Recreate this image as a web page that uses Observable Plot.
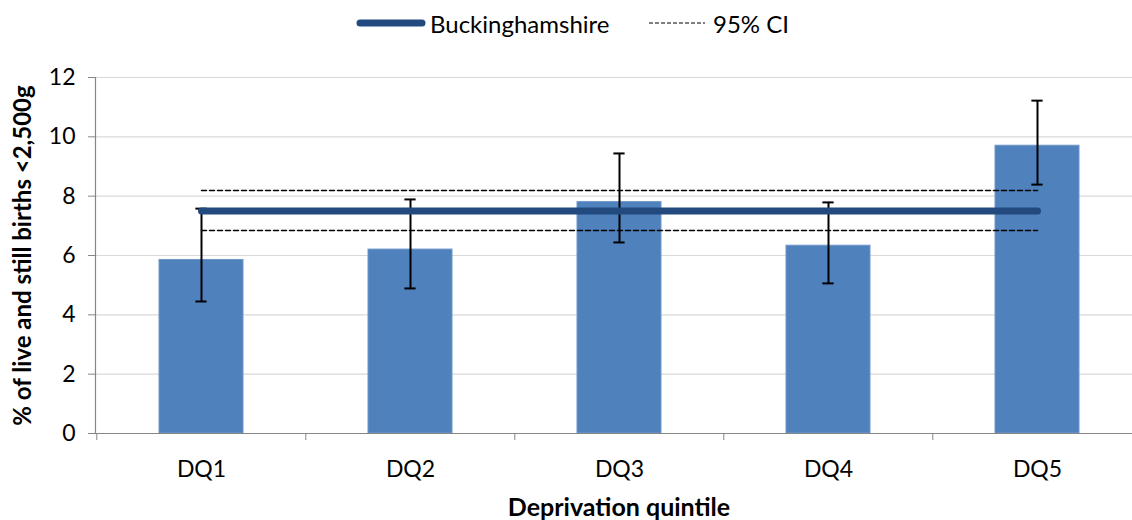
<!DOCTYPE html>
<html>
<head>
<meta charset="utf-8">
<script src="https://cdn.jsdelivr.net/npm/d3@7"></script>
<script src="https://cdn.jsdelivr.net/npm/@observablehq/plot@0.6"></script>
<style>
  html, body { margin: 0; padding: 0; background: #fff; overflow: hidden; }
  body { width: 1132px; height: 520px; font-family: Lato, "Open Sans", sans-serif; }
  #legend { height: 50px; position: relative; font-size: 24px; color: #000; }
  .item { position: absolute; top: 9px; display: flex; align-items: center; height: 28px; }
  .item svg { margin-right: 4px; }
  svg.chart g[aria-label="y-axis tick label"] { font-size: 23px; }
  svg.chart g[aria-label="x-axis tick label"] { font-size: 23px; }
</style>
</head>
<body>
<div id="legend">
  <div class="item" style="left:356px">
    <svg width="70" height="12"><line x1="4" x2="66" y1="6" y2="6" stroke="#224a7e" stroke-width="7" stroke-linecap="round"/></svg>
    <span>Buckinghamshire</span>
  </div>
  <div class="item" style="left:649px">
    <svg width="60" height="12"><line x1="0" x2="56" y1="6" y2="6" stroke="#000" stroke-width="1.2" stroke-dasharray="4,2"/></svg>
    <span>95% CI</span>
  </div>
</div>
<div id="chart"></div>
<script>
const categories = ["DQ1", "DQ2", "DQ3", "DQ4", "DQ5"];
const values = [5.85, 6.2, 7.8, 6.33, 9.7];
const lowerCI = [4.45, 4.89, 6.44, 5.06, 8.39];
const upperCI = [7.58, 7.89, 9.44, 7.79, 11.22];
const areaValue = 7.5;
const areaLower = 6.84;
const areaUpper = 8.19;
const yTicks = [0, 2, 4, 6, 8, 10, 12];

const rows = categories.map((c, i) => ({q: c, v: values[i], lo: lowerCI[i], hi: upperCI[i]}));
const areaRows = categories.map(c => ({q: c, v: areaValue, lo: areaLower, hi: areaUpper}));

const W = 1132, H = 470, mL = 95, mR = -10;
const step = (W - mL - mR) / categories.length;
const bw = step * 0.4;
const capW = 11;

const chart = Plot.plot({
  width: W,
  height: H,
  marginLeft: mL,
  marginRight: mR,
  marginTop: 27,
  marginBottom: 87,
  className: "chart",
  style: {fontFamily: "Lato, 'Open Sans', sans-serif", background: "#fff", overflow: "visible"},
  x: {domain: categories, paddingInner: 0.6, paddingOuter: 0.3, label: null},
  y: {domain: [0, 12], label: null},
  marks: [
    Plot.gridY(yTicks, {stroke: "#d9d9d9", strokeOpacity: 1, strokeWidth: 1.2}),
    Plot.barY(rows, {x: "q", y: "v", fill: "#4f81bd", stroke: "#6f97c8", strokeWidth: 1}),
    Plot.ruleX(rows, {x: "q", y1: "lo", y2: "hi", stroke: "#000", strokeWidth: 2}),
    Plot.tickY(rows, {x: "q", y: "lo", stroke: "#000", strokeWidth: 2, insetLeft: (bw - capW) / 2, insetRight: (bw - capW) / 2}),
    Plot.tickY(rows, {x: "q", y: "hi", stroke: "#000", strokeWidth: 2, insetLeft: (bw - capW) / 2, insetRight: (bw - capW) / 2}),
    Plot.line(areaRows, {x: "q", y: "hi", stroke: "#000", strokeWidth: 1.5, strokeDasharray: "5,3"}),
    Plot.line(areaRows, {x: "q", y: "lo", stroke: "#000", strokeWidth: 1.5, strokeDasharray: "5,3"}),
    Plot.line(areaRows, {x: "q", y: "v", stroke: "#224a7e", strokeWidth: 7, strokeLinecap: "round"}),
    Plot.ruleY([0], {stroke: "#868686", strokeWidth: 1.2}),
    Plot.frame({anchor: "left", stroke: "#868686", strokeWidth: 1.2}),
    Plot.axisY(yTicks, {tickSize: 7, tickPadding: 13, stroke: "#868686", fontSize: 23, fill: "#000", label: null}),
    Plot.axisX({tickSize: 7, dx: -step / 2, tickFormat: () => "", stroke: "#868686", label: null}),
    Plot.axisX({tickSize: 0, tickPadding: 27, fontSize: 23, fill: "#000", label: null}),
    Plot.text(["% of live and still births <2,500g"], {frameAnchor: "left", textAnchor: "middle", rotate: -90, dx: -72, fontSize: 24, fontWeight: "bold", fill: "#000"}),
    Plot.text(["Deprivation quintile"], {frameAnchor: "bottom", dy: 82, fontSize: 25, fontWeight: "bold", fill: "#000"})
  ]
});
document.getElementById("chart").appendChild(chart);
</script>
</body>
</html>
